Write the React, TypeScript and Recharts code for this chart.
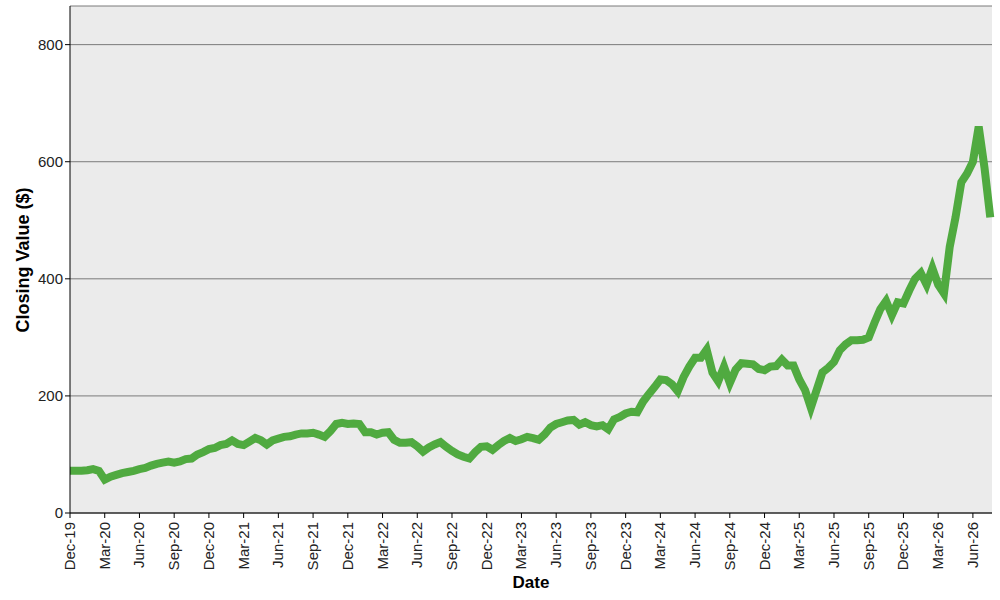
import React from "react";
import {
  LineChart,
  Line,
  XAxis,
  YAxis,
  CartesianGrid,
} from "recharts";

// Half-monthly closing values (1st & 15th), Dec 2019 .. Jul 2026
const closeDec2019 = [72, 72];
const close2020 = [72, 73, 75, 72, 57, 62, 65, 68, 70, 72, 75, 77, 81, 84, 86, 88, 86, 88, 92, 93, 100, 104, 109, 111];
const close2021 = [116, 118, 124, 118, 116, 122, 128, 124, 117, 124, 127, 130, 131, 134, 136, 136, 137, 134, 130, 140, 152, 154, 152, 153];
const close2022 = [152, 138, 138, 134, 137, 138, 125, 120, 120, 121, 114, 105, 112, 117, 121, 113, 106, 100, 96, 93, 104, 113, 114, 108];
const close2023 = [116, 123, 128, 123, 126, 130, 128, 125, 134, 146, 152, 155, 158, 159, 151, 155, 150, 148, 150, 143, 160, 164, 170, 173];
const close2024 = [172, 190, 203, 215, 228, 227, 220, 208, 232, 250, 265, 265, 279, 240, 225, 250, 222, 245, 256, 255, 254, 246, 244, 250];
const close2025 = [251, 262, 252, 252, 228, 210, 180, 210, 240, 248, 258, 278, 288, 295, 295, 296, 300, 325, 348, 362, 338, 360, 358, 380];
const close2026 = [400, 410, 390, 418, 390, 375, 455, 505, 565, 580, 600, 660, 590, 505];

const tickLabels = [
  "Dec-19", "Mar-20", "Jun-20", "Sep-20", "Dec-20", "Mar-21", "Jun-21", "Sep-21",
  "Dec-21", "Mar-22", "Jun-22", "Sep-22", "Dec-22", "Mar-23", "Jun-23", "Sep-23",
  "Dec-23", "Mar-24", "Jun-24", "Sep-24", "Dec-24", "Mar-25", "Jun-25", "Sep-25",
  "Dec-25", "Mar-26", "Jun-26",
];
const yTicks = [0, 200, 400, 600, 800];

const values = [
  ...closeDec2019, ...close2020, ...close2021, ...close2022,
  ...close2023, ...close2024, ...close2025, ...close2026,
];
// x = half-month index since 1 Dec 2019; a quarter is 6 half-months
const data = values.map((v, i) => ({ i, close: v }));
const xTicks = tickLabels.map((_, k) => k * 6);

const FONT = "'Liberation Sans', Arial, sans-serif";

function DateTick({ x, y, payload }: any) {
  const label = tickLabels[Math.round(payload.value / 6)] ?? "";
  return (
    <g transform={`translate(${x},${y + 2})`}>
      <text transform="rotate(-90)" textAnchor="end" dy={5} fontSize={15} fill="#222" fontFamily={FONT}>
        {label}
      </text>
    </g>
  );
}

export default function App() {
  return (
    <div style={{ position: "fixed", left: 0, top: 0, width: 1000, height: 600, background: "#fff" }}>
      <LineChart
        width={1000}
        height={600}
        data={data}
        margin={{ top: 6, right: 8, left: 0, bottom: 6 }}
        style={{ fontFamily: FONT }}
      >
        <CartesianGrid vertical={false} stroke="#7a7a7a" fill="#ebebeb" />
        <XAxis
          dataKey="i"
          type="number"
          domain={[0, 159.3]}
          ticks={xTicks}
          interval={0}
          height={81}
          stroke="#000"
          tickSize={5}
          tick={<DateTick />}
          label={(props: any) => {
            const vb = props.viewBox;
            return (
              <text x={vb.x + vb.width / 2} y={588} textAnchor="middle" fontSize={17} fontWeight="bold" fill="#000" fontFamily={FONT}>
                Date
              </text>
            );
          }}
        />
        <XAxis xAxisId="top" orientation="top" dataKey="i" type="number" domain={[0, 159.3]} height={0} tick={false} tickLine={false} stroke="#444" />
        <YAxis
          domain={[0, 866]}
          ticks={yTicks}
          width={70}
          stroke="#000"
          tickSize={5}
          tickMargin={2}
          tick={{ fontSize: 15, fill: "#222", fontFamily: FONT }}
          allowDataOverflow
          label={() => (
            <text
              x={29}
              y={260}
              transform="rotate(-90 29 260)"
              textAnchor="middle"
              fontSize={18}
              fontWeight="bold"
              fill="#000"
              fontFamily={FONT}
            >
              Closing Value ($)
            </text>
          )}
        />
        <YAxis yAxisId="right" orientation="right" domain={[0, 866]} width={0} tick={false} tickLine={false} stroke="#444" />
        <Line
          type="linear"
          dataKey="close"
          stroke="#50aa40"
          strokeWidth={8}
          dot={false}
          activeDot={false}
          isAnimationActive={false}
        />
      </LineChart>
    </div>
  );
}
